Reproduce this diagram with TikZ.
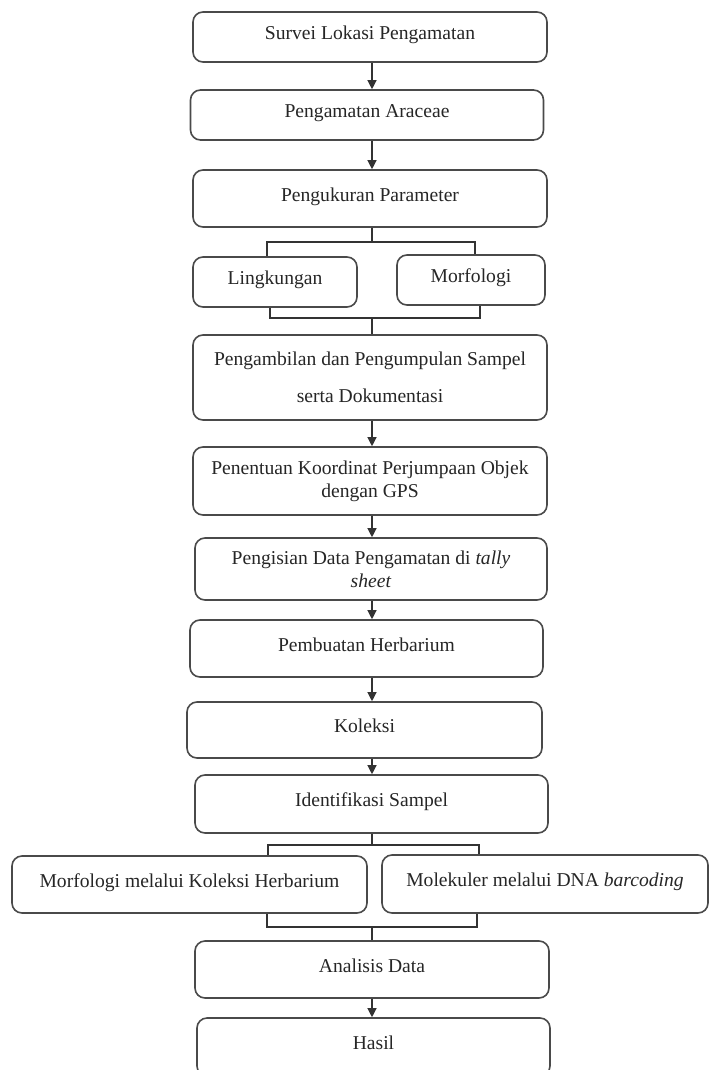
\documentclass[tikz,border=0pt]{standalone}
\usepackage{fontspec}
\setmainfont{Liberation Serif}
\usetikzlibrary{arrows.meta}
\definecolor{boxline}{HTML}{4A4A4A}
\definecolor{ink}{HTML}{262626}
\definecolor{wire}{HTML}{333333}
\tikzset{
  box/.style={draw=boxline,line width=0.8pt,rounded corners=5pt,align=center,inner sep=0pt,
    text=ink,font=\fontsize{9.8}{11.5}\selectfont},
  oneline/.style={text height=0.7em,text depth=0.45em},
  link/.style={draw=wire,line width=0.6pt},
  arrow/.style={link,-{Triangle[length=4.5pt,width=4.5pt]}}
}
\begin{document}
\begin{tikzpicture}[x=0.5pt,y=-0.5pt]
  \fill[white] (0,0) rectangle (711,1070);
  \useasboundingbox (0,0) rectangle (711,1070);
  \coordinate (col) at (372,0);

  % Survey and measurement
  \node[box,oneline,minimum width=177pt,minimum height=25pt] (survei) at (370,37) {Survei Lokasi Pengamatan};
  \node[box,oneline,minimum width=176.5pt,minimum height=25pt] (araceae) at (367,115) {Pengamatan Araceae};
  \node[box,oneline,minimum width=177pt,minimum height=28.5pt] (ukur) at (370,198.5) {Pengukuran Parameter};
  \node[box,oneline,minimum width=82pt,minimum height=25pt] (lingk) at (275,282) {Lingkungan};
  \node[box,oneline,minimum width=74pt,minimum height=25pt] (morf) at (471,280) {Morfologi};

  % Sampling
  \node[box,font=\fontsize{9.8}{18.5}\selectfont,minimum width=177pt,minimum height=42.5pt] (ambil) at (370,377.5)
    {Pengambilan dan Pengumpulan Sampel\\serta Dokumentasi};
  \node[box,minimum width=177pt,minimum height=34pt] (tentu) at (370,481)
    {Penentuan Koordinat Perjumpaan Objek\\dengan GPS};
  \node[box,minimum width=176pt,minimum height=31pt] (isi) at (371,569)
    {Pengisian Data Pengamatan di \textit{tally}\\\textit{sheet}};
  \node[box,oneline,minimum width=176.5pt,minimum height=28.5pt] (herb) at (366.5,648.5) {Pembuatan Herbarium};
  \node[box,oneline,minimum width=177.5pt,minimum height=28pt] (koleksi) at (364.5,730) {Koleksi};

  % Identification
  \node[box,oneline,minimum width=176.5pt,minimum height=29pt] (ident) at (371.5,804) {Identifikasi Sampel};
  \node[box,oneline,minimum width=177.5pt,minimum height=28.5pt] (morfherb) at (189.5,884.5) {Morfologi melalui Koleksi Herbarium};
  \node[box,oneline,minimum width=163pt,minimum height=29pt] (molek) at (545,884) {Molekuler melalui DNA \textit{barcoding}};
  \node[box,oneline,minimum width=177pt,minimum height=28.5pt] (analisis) at (372,969.5) {Analisis Data};
  \node[box,oneline,minimum width=176.5pt,minimum height=29pt] (hasil) at (373.5,1047) {Hasil};

  % Arrows
  \draw[arrow] (survei.south -| col) -- (araceae.north -| col);
  \draw[arrow] (araceae.south -| col) -- (ukur.north -| col);
  \draw[arrow] (ambil.south -| col) -- (tentu.north -| col);
  \draw[arrow] (tentu.south -| col) -- (isi.north -| col);
  \draw[arrow] (isi.south -| col) -- (herb.north -| col);
  \draw[arrow] (herb.south -| col) -- (koleksi.north -| col);
  \draw[arrow] (koleksi.south -| col) -- (ident.north -| col);
  \draw[arrow] (analisis.south -| col) -- (hasil.north -| col);

  % Brackets around the parameters
  \coordinate (splitL) at (267,242);
  \coordinate (splitR) at (475,242);
  \coordinate (joinL) at (270,318);
  \coordinate (joinR) at (480,318);
  \draw[link] (ukur.south -| col) -- (col |- splitL);
  \draw[link] (lingk.north -| splitL) -- (splitL) -- (splitR) -- (morf.north -| splitR);
  \draw[link] (lingk.south -| joinL) -- (joinL) -- (joinR) -- (morf.south -| joinR);
  \draw[link] (col |- joinL) -- (ambil.north -| col);

  % Brackets around the identification
  \coordinate (idsplitL) at (268,845);
  \coordinate (idsplitR) at (479,845);
  \coordinate (idjoinL) at (267,927);
  \coordinate (idjoinR) at (477,927);
  \draw[link] (ident.south -| col) -- (col |- idsplitL);
  \draw[link] (morfherb.north -| idsplitL) -- (idsplitL) -- (idsplitR) -- (molek.north -| idsplitR);
  \draw[link] (morfherb.south -| idjoinL) -- (idjoinL) -- (idjoinR) -- (molek.south -| idjoinR);
  \draw[link] (col |- idjoinL) -- (analisis.north -| col);
\end{tikzpicture}
\end{document}
